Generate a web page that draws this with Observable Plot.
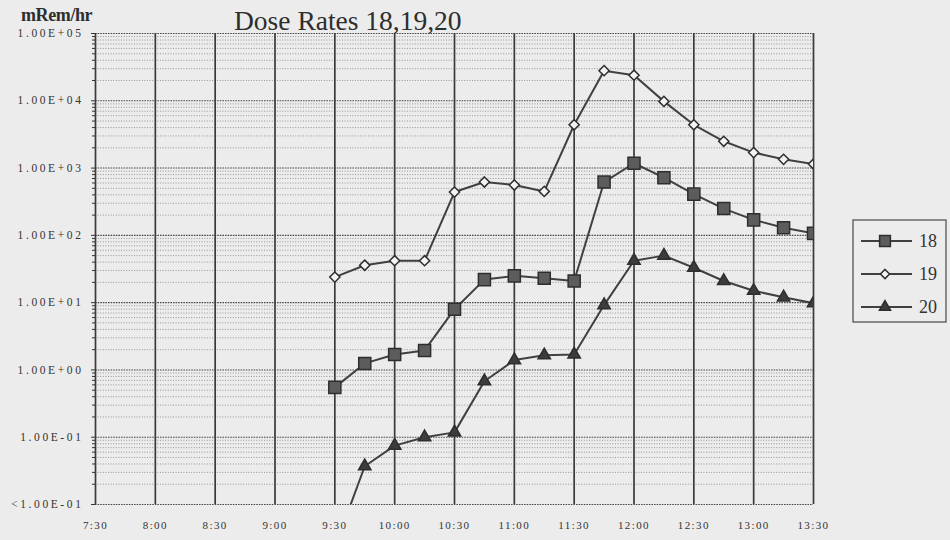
<!DOCTYPE html>
<html><head><meta charset="utf-8">
<script src="https://cdn.jsdelivr.net/npm/d3@7"></script>
<script src="https://cdn.jsdelivr.net/npm/@observablehq/plot@0.6"></script>
<style>
body{margin:0;background:#ececec;}
#wrap{position:relative;width:950px;height:540px;font-family:"Liberation Serif","Times New Roman",serif;color:#2e2e2e;overflow:hidden;}
#unit{position:absolute;left:21px;top:6px;font-size:18px;line-height:1;font-weight:bold;letter-spacing:-0.4px;}
#title{position:absolute;left:234px;top:7px;font-size:27.5px;line-height:1;}
#legend{position:absolute;left:852px;top:219px;}
svg text{font-family:"Liberation Serif","Times New Roman",serif;}
.yax text{letter-spacing:2.6px;font-size:11.5px;}
.xax text{letter-spacing:1.4px;font-size:11px;}
</style></head><body>
<div id="wrap"><div id="chart"></div><div id="unit">mRem/hr</div><div id="title">Dose Rates 18,19,20</div><div id="legend"></div></div>
<script>
// ---- data ----
const times = ["9:30","9:45","10:00","10:15","10:30","10:45","11:00","11:15","11:30","11:45","12:00","12:15","12:30","12:45","13:00","13:15","13:30"];
const s18 = [0.55, 1.25, 1.7, 1.95, 8, 22, 25, 23, 21, 620, 1180, 720, 410, 250, 170, 130, 107];
const s19 = [24, 36, 42, 42, 440, 620, 560, 450, 4400, 28000, 24000, 9800, 4400, 2500, 1700, 1350, 1150];
const s20 = [0.0023, 0.037, 0.075, 0.1, 0.118, 0.68, 1.4, 1.65, 1.7, 9.2, 42, 50, 33, 21, 15, 12, 9.8];
const seriesNames = ["18","19","20"];
const xTickLabels = ["7:30","8:00","8:30","9:00","9:30","10:00","10:30","11:00","11:30","12:00","12:30","13:00","13:30"];
const yTickLabels = ["<1.00E-01","1.00E-01","1.00E+00","1.00E+01","1.00E+02","1.00E+03","1.00E+04","1.00E+05"];

const toMin = t => { const [h,m] = t.split(":").map(Number); return h*60+m; };
const seriesVals = [s18, s19, s20];
const rows = [];
seriesNames.forEach((name, k) => times.forEach((t, i) => rows.push({t: toMin(t), v: seriesVals[k][i], s: name})));
const xTicks = xTickLabels.map(toMin);
const yTicks = yTickLabels.map((_, i) => Math.pow(10, i - 2));
const minor = [];
for (let e = -2; e < 5; e++) for (let k = 2; k <= 9; k++) minor.push(k * Math.pow(10, e));

const symbols = ["square","diamond2","triangle"];
const fills = ["#5c5c5c","#f4f4f4","#3c3c3c"];
const radii = [6.8, 4.6, 4.6];

const yLabelOf = d => { const i = yTicks.findIndex(v => Math.abs(v - d) / v < 1e-6); return i < 0 ? "" : yTickLabels[i]; };
const xLabelOf = d => { const i = xTicks.indexOf(d); return i < 0 ? "" : xTickLabels[i]; };

const chart = Plot.plot({
  width: 950, height: 540,
  marginLeft: 95, marginRight: 137, marginTop: 33, marginBottom: 36,
  style: {background: "transparent", fontSize: "11px", color: "#333"},
  x: {domain: [xTicks[0], xTicks[xTicks.length-1]]},
  y: {type: "log", domain: [yTicks[0], yTicks[yTicks.length-1]]},
  marks: [
    Plot.ruleY(minor, {stroke: "#8c8c8c", strokeWidth: 0.9, strokeDasharray: "1,1.6"}),
    Plot.ruleY(yTicks, {stroke: "#4a4a4a", strokeWidth: 1.1, strokeDasharray: "1.6,1"}),
    Plot.ruleX(xTicks, {stroke: "#3a3a3a", strokeWidth: 1.7}),
    Plot.line(rows, {x: "t", y: "v", z: "s", stroke: "#404040", strokeWidth: 2, clip: true}),
    ...seriesNames.map((name, k) => Plot.dot(rows.filter(d => d.s === name), {
      x: "t", y: "v", symbol: symbols[k], fill: fills[k], stroke: "#2e2e2e", strokeWidth: 1.5, r: radii[k], clip: true})),
    Plot.axisY(minor, {label: null, tickSize: 3, tickFormat: () => "", stroke: "#333"}),
    Plot.axisY(yTicks, {label: null, className: "yax", tickSize: 4, tickPadding: 8, tickFormat: yLabelOf, stroke: "#333", fill: "#333"}),
    Plot.axisX(xTicks, {label: null, className: "xax", tickSize: 0, tickPadding: 17, tickFormat: xLabelOf, fill: "#333"})
  ]
});
document.getElementById("chart").appendChild(chart);

// legend
const lg = d3.select("#legend").append("svg").attr("width", 96).attr("height", 106);
lg.append("rect").attr("x", 1).attr("y", 1).attr("width", 93).attr("height", 102)
  .attr("fill", "none").attr("stroke", "#555").attr("stroke-width", 1.3);
const symMap = {square: d3.symbolSquare, diamond2: d3.symbolDiamond2, triangle: d3.symbolTriangle};
seriesNames.forEach((name, i) => {
  const y = 22 + i * 33;
  const g = lg.append("g");
  g.append("line").attr("x1", 9).attr("x2", 60).attr("y1", y).attr("y2", y).attr("stroke", "#404040").attr("stroke-width", 2);
  g.append("path").attr("d", d3.symbol(symMap[symbols[i]], Math.PI * radii[i] * radii[i] * 0.8)()).attr("transform", `translate(33,${y})`)
    .attr("fill", fills[i]).attr("stroke", "#2e2e2e").attr("stroke-width", 1.5);
  g.append("text").attr("x", 67).attr("y", y).attr("dy", "0.35em").attr("font-size", 18).attr("fill", "#333").text(name);
});
</script>
</body></html>
